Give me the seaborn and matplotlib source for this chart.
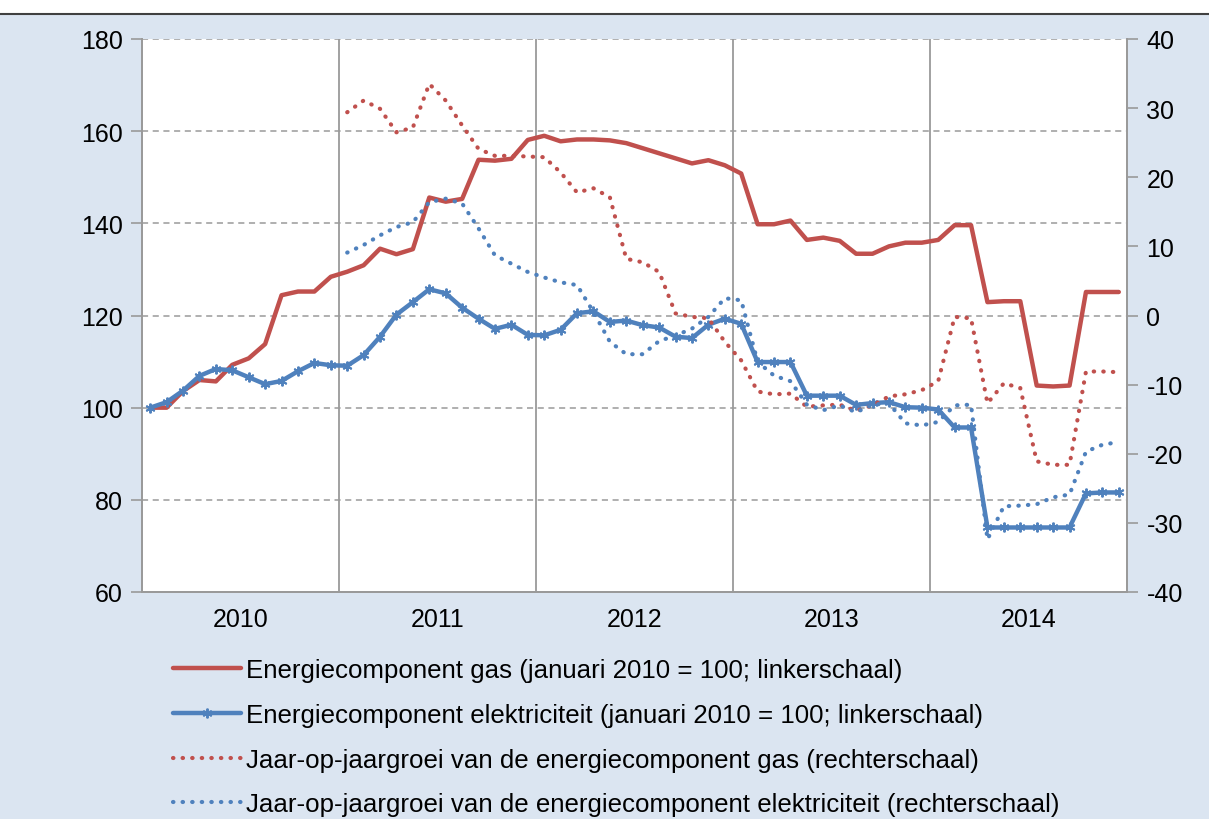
import numpy as np
import pandas as pd
import matplotlib
matplotlib.use("Agg")
import matplotlib.pyplot as plt
import seaborn as sns
from matplotlib.patches import Rectangle
from matplotlib.lines import Line2D

# ---------------- data ----------------
years = ["2010", "2011", "2012", "2013", "2014"]
months = list(range(60))  # jan 2010 .. dec 2014

gas_index = [100, 100, 103.6, 106, 105.7, 109.3, 110.7, 113.8, 124.4, 125.2, 125.2, 128.4,
             129.5, 130.9, 134.5, 133.3, 134.4, 145.6, 144.7, 145.3, 153.8, 153.6, 154, 158.1,
             159, 157.8, 158.2, 158.2, 158, 157.4, 156.3, 155.2, 154.1, 153, 153.7, 152.6,
             150.8, 139.8, 139.8, 140.6, 136.4, 136.9, 136.2, 133.4, 133.4, 135, 135.8, 135.8,
             136.4, 139.6, 139.6, 122.9, 123.1, 123.1, 104.8, 104.6, 104.8, 125.1, 125.1, 125.1]

elec_index = [100, 101.2, 103.7, 106.9, 108.4, 108.1, 106.6, 105.1, 105.8, 107.9, 109.7, 109.2,
              109.1, 111.4, 115.4, 120.2, 122.9, 125.7, 124.8, 121.7, 119.3, 117.1, 118, 115.8,
              115.7, 116.9, 120.5, 120.9, 118.6, 118.9, 117.9, 117.4, 115.4, 115.1, 118, 119.3,
              118.2, 109.9, 109.9, 109.9, 102.6, 102.6, 102.6, 100.6, 101, 101.2, 100.1, 100,
              99.6, 95.7, 95.7, 74, 74, 74, 74, 74, 74, 81.4, 81.6, 81.6]

gas_yoy = [np.nan] * 12 + [
    29.4, 31.1, 29.9, 26.5, 27.2, 33.5, 31.1, 27.5, 24.1, 23.1, 23.1, 23.0,
    22.9, 20.7, 17.8, 18.4, 17.1, 8.2, 7.7, 6.3, 0.3, -0.2, -0.4, -3.8,
    -6.5, -11.0, -11.4, -11.3, -13.2, -13.0, -12.9, -13.8, -13.0, -11.7, -11.4, -10.8,
    -9.5, -0.2, -0.4, -12.7, -9.8, -10.5, -21.1, -21.6, -21.6, -8.1, -8.1, -8.2]

elec_yoy = [np.nan] * 12 + [
    9.1, 10.2, 11.6, 12.8, 13.5, 16.4, 16.9, 16.2, 12.6, 8.7, 7.5, 6.3,
    5.5, 4.8, 4.4, 0.5, -3.8, -5.6, -5.6, -3.7, -2.9, -1.9, -0.2, 2.5,
    2.2, -6.7, -8.7, -9.5, -12.9, -13.7, -13.0, -14.0, -12.9, -12.7, -15.6, -15.9,
    -15.4, -13.0, -12.9, -32.4, -27.6, -27.5, -27.3, -26.3, -25.9, -19.7, -18.7, -18.3]

labels = [
    "Energiecomponent gas (januari 2010 = 100; linkerschaal)",
    "Energiecomponent elektriciteit (januari 2010 = 100; linkerschaal)",
    "Jaar-op-jaargroei van de energiecomponent gas (rechterschaal)",
    "Jaar-op-jaargroei van de energiecomponent elektriciteit (rechterschaal)",
]

df = pd.DataFrame({"month": months, "gas": gas_index, "elec": elec_index,
                   "gas_yoy": gas_yoy, "elec_yoy": elec_yoy})

# ---------------- style ----------------
sns.set_style("white")
plt.rcParams["font.family"] = ["Liberation Sans", "DejaVu Sans"]
plt.rcParams["axes.unicode_minus"] = False
plt.rcParams["text.color"] = "black"
plt.rcParams["xtick.color"] = "black"
plt.rcParams["ytick.color"] = "black"

RED = "#c0504d"
BLUE = "#4f81bd"
BG = "#dbe5f1"
GRID = "#9a9a9a"

fig = plt.figure(figsize=(12.09, 8.2), dpi=100, facecolor=BG)
ax = fig.add_axes([142 / 1209, 1 - 593 / 820, (1127 - 142) / 1209, (593 - 40) / 820])
ax.set_facecolor("white")

# top white strip + rule
fig.patches.append(Rectangle((0, 1 - 14 / 820), 1, 14 / 820, transform=fig.transFigure,
                             facecolor="white", edgecolor="none", zorder=0))
fig.add_artist(Line2D([0, 1], [1 - 14.5 / 820] * 2, transform=fig.transFigure,
                      color="#404040", lw=1.5))

dot = (0, (0.1, 2.2))

sns.lineplot(data=df, x="month", y="gas", ax=ax, color=RED, lw=3.2, label=labels[0],
             legend=False)
sns.lineplot(data=df, x="month", y="elec", ax=ax, color=BLUE, lw=3.2, marker=(6, 2, 0),
             markersize=7, markeredgewidth=1.4, markeredgecolor=BLUE, label=labels[1],
             legend=False)

ax2 = ax.twinx()
sns.lineplot(data=df, x="month", y="gas_yoy", ax=ax2, color=RED, lw=3.0, linestyle=dot,
             dash_capstyle="round", label=labels[2], legend=False)
sns.lineplot(data=df, x="month", y="elec_yoy", ax=ax2, color=BLUE, lw=3.0, linestyle=dot,
             dash_capstyle="round", label=labels[3], legend=False)

# axes limits / ticks
ax.set_xlim(-0.5, 59.5)
ax.set_ylim(60, 180)
ax.set_yticks(range(60, 181, 20))
ax2.set_ylim(-40, 40)
ax2.set_yticks(range(-40, 41, 10))

bounds = [-0.5, 11.5, 23.5, 35.5, 47.5, 59.5]
ax.set_xticks(bounds)
ax.set_xticklabels([])
ax.set_xticks([5.5, 17.5, 29.5, 41.5, 53.5], minor=True)
ax.set_xticklabels(years, minor=True)
ax.tick_params(axis="x", which="major", length=8, width=1.2, color=GRID, direction="out")
ax.tick_params(axis="x", which="minor", length=0, pad=11, labelsize=18, labelcolor="black")
ax.tick_params(axis="y", length=8, width=1.2, color=GRID, direction="out", labelsize=18,
               pad=6, labelcolor="black")
ax2.tick_params(axis="y", length=8, width=1.2, color=GRID, direction="out", labelsize=18,
                pad=6, labelcolor="black")
ax.set_xlabel("")
ax.set_ylabel("")
ax2.set_ylabel("")

# grid
for v in bounds[1:-1]:
    ax.axvline(v, color=GRID, lw=1.3, zorder=0.5)
for h in range(80, 181, 20):
    ax.axhline(h, color=GRID, lw=1.1, ls=(0, (4, 3)), zorder=0.5)

for a in (ax, ax2):
    a.spines["top"].set_visible(False)
    for s in ("left", "right", "bottom"):
        a.spines[s].set_color(GRID)
        a.spines[s].set_linewidth(1.3)

# legend
h1, l1 = ax.get_legend_handles_labels()
h2, l2 = ax2.get_legend_handles_labels()
leg = fig.legend(h1 + h2, l1 + l2, loc="upper left", bbox_to_anchor=(163 / 1209, 1 - 649 / 820),
                 frameon=False, fontsize=18.6, handlelength=2.6, handletextpad=0.2,
                 labelspacing=0.8, numpoints=1, borderaxespad=0)
for t in leg.get_texts():
    t.set_color("black")

fig.savefig("out.png", dpi=100, facecolor=BG)
